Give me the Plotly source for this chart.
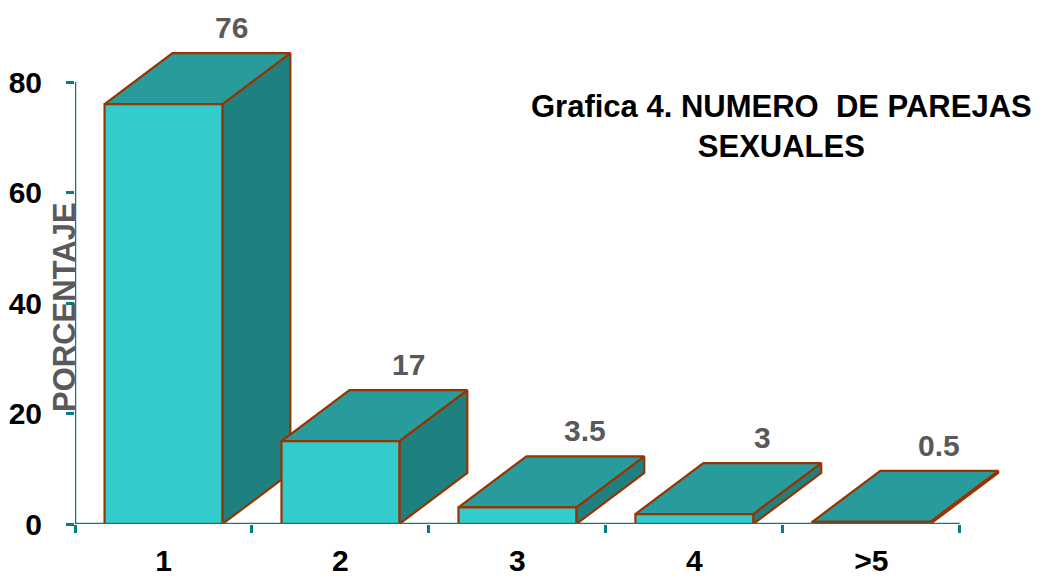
import plotly.graph_objects as go

# ---- data ----
categories = ["1", "2", "3", "4", ">5"]
heights = [76, 15, 3, 1.8, 0.4]          # bar heights as drawn
labels = ["76", "17", "3.5", "3", "0.5"]  # data labels shown
y_ticks = [0, 20, 40, 60, 80]
title_text = "Grafica 4. NUMERO  DE PAREJAS<br>SEXUALES"
y_title = "PORCENTAJE"

# ---- style ----
FRONT = "#33CCCC"
TOP = "#289C9C"
SIDE = "#1F8080"
EDGE = "#993300"
AXIS = "#008080"
FONT = "Liberation Sans, Arial, sans-serif"

W, H = 1046, 576
ML, MR, MT, MB = 75, 42, 20, 52
XR = [-0.5, 4.75]
YR = [0, (H - MB - MT) / ((H - MB - 82) / 80)]

half = 0.333   # half-width of front face (category units)
dx = 0.384     # depth offset in x (category units)
dy = 9.23      # depth offset in y (data units)

fig = go.Figure()

def poly(xs, ys, color):
    fig.add_trace(go.Scatter(
        x=xs + [xs[0]], y=ys + [ys[0]], mode="lines", fill="toself",
        fillcolor=color, line=dict(color=EDGE, width=2.2),
        hoverinfo="skip", showlegend=False))

for i, h in enumerate(heights):
    x0, x1 = i - half, i + half
    # side
    poly([x1, x1 + dx, x1 + dx, x1], [0, dy, h + dy, h], SIDE)
    # top
    poly([x0, x1, x1 + dx, x0 + dx], [h, h, h + dy, h + dy], TOP)
    # front
    poly([x0, x1, x1, x0], [0, 0, h, h], FRONT)

# manual axis lines
fig.add_trace(go.Scatter(x=[XR[0], XR[0]], y=[0, y_ticks[-1]], mode="lines",
                         line=dict(color=AXIS, width=2.5), hoverinfo="skip", showlegend=False))
fig.add_trace(go.Scatter(x=[XR[0], 4.5], y=[0, 0], mode="lines",
                         line=dict(color=AXIS, width=2.5), hoverinfo="skip", showlegend=False))

# data labels
for i, (h, t) in enumerate(zip(heights, labels)):
    fig.add_annotation(x=i + dx, y=h + dy, text=t, showarrow=False,
                       yanchor="bottom", yshift=7,
                       font=dict(family=FONT, size=30, color="#595959", weight=700))

def px_x(p):
    return (p - ML) / (W - ML - MR)

def px_y(p):
    return (H - MB - p) / (H - MB - MT)

fig.add_annotation(xref="paper", yref="paper", x=px_x(781), y=px_y(126),
                   text=title_text, showarrow=False, align="center",
                   xanchor="center", yanchor="middle",
                   font=dict(family=FONT, size=31, color="black", weight=700))
fig.add_annotation(xref="paper", yref="paper", x=px_x(64), y=px_y(307),
                   text=y_title, showarrow=False, textangle=-90,
                   xanchor="center", yanchor="middle",
                   font=dict(family=FONT, size=31, color="#595959", weight=700))

fig.update_layout(
    width=W, height=H,
    margin=dict(l=ML, r=MR, t=MT, b=MB, autoexpand=False),
    paper_bgcolor="white", plot_bgcolor="white",
    showlegend=False,
    xaxis=dict(range=XR, showgrid=False, zeroline=False, showline=False,
               automargin=False,
               tickmode="array", tickvals=list(range(len(categories))),
               ticktext=categories, ticks="",
               ticklabelstandoff=16,
               minor=dict(tickmode="array", tickvals=[k - 0.5 for k in range(len(categories) + 1)],
                          ticks="outside", ticklen=8, tickwidth=2.5, tickcolor=AXIS),
               tickfont=dict(family=FONT, size=30, color="black", weight=700)),
    yaxis=dict(range=YR, showgrid=False, zeroline=False, showline=False,
               automargin=False,
               tickmode="array", tickvals=y_ticks, ticks="outside",
               ticklen=8, tickwidth=2.5, tickcolor=AXIS,
               ticklabelstandoff=18,
               tickfont=dict(family=FONT, size=30, color="black", weight=700)),
)

fig.write_html("out.html")
